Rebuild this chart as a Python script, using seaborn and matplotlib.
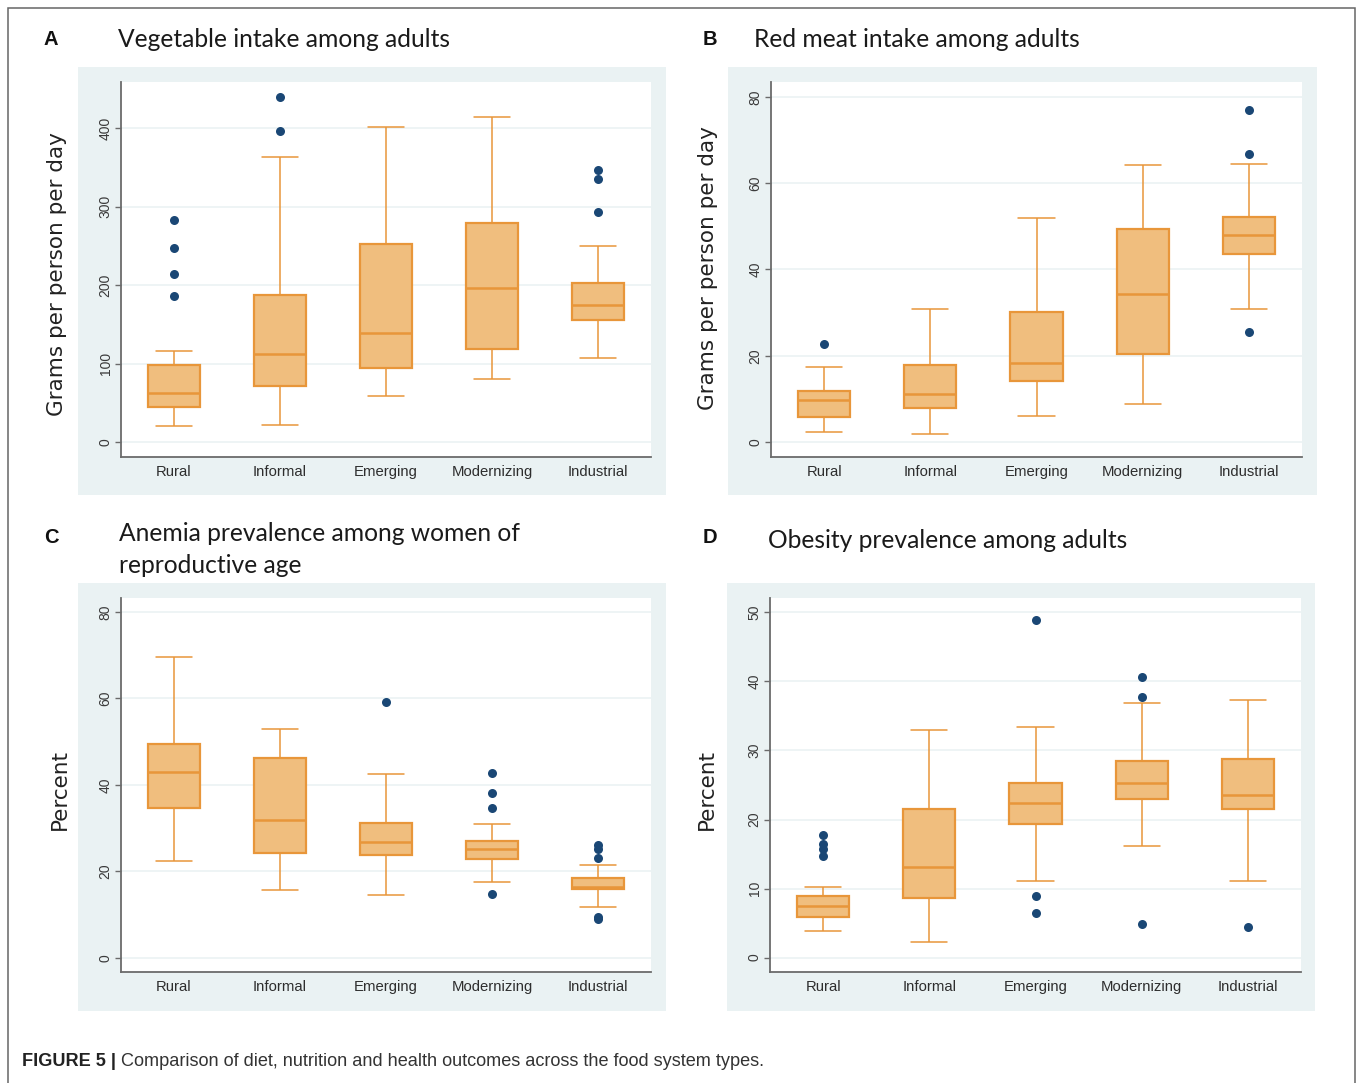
import numpy as np
import pandas as pd
import matplotlib
matplotlib.use("Agg")
import matplotlib.pyplot as plt
from matplotlib.patches import Rectangle
import seaborn as sns

categories = ["Rural", "Informal", "Emerging", "Modernizing", "Industrial"]

# A: vegetable intake, grams per person per day
veg_low = [20, 22, 59, 80, 107]
veg_q1 = [45, 71, 95, 119, 156]
veg_med = [63, 112, 139, 197, 175]
veg_q3 = [98, 187, 253, 279, 203]
veg_high = [116, 363, 402, 415, 250]
veg_out = [[283, 247, 214, 186], [440, 396], [], [], [347, 335, 293]]

# B: red meat intake, grams per person per day
meat_low = [2.2, 1.8, 6.0, 8.9, 30.8]
meat_q1 = [5.7, 7.8, 14.1, 20.3, 43.5]
meat_med = [9.7, 11.0, 18.2, 34.4, 48.0]
meat_q3 = [11.8, 17.9, 30.1, 49.4, 52.2]
meat_high = [17.4, 30.8, 51.9, 64.2, 64.4]
meat_out = [[22.7], [], [], [], [77.1, 66.9, 25.4]]

# C: anemia prevalence, percent
anemia_low = [22.3, 15.7, 14.6, 17.5, 11.7]
anemia_q1 = [34.6, 24.3, 23.7, 22.9, 15.8]
anemia_med = [43.0, 31.8, 26.8, 25.1, 16.3]
anemia_q3 = [49.4, 46.1, 31.1, 27.1, 18.4]
anemia_high = [69.6, 52.9, 42.5, 30.9, 21.5]
anemia_out = [[], [], [59.1], [42.8, 38.2, 34.7, 14.8], [26.0, 25.2, 23.1, 9.4, 9.0]]

# D: obesity prevalence, percent
obes_low = [3.8, 2.2, 11.1, 16.1, 11.1]
obes_q1 = [5.8, 8.6, 19.4, 23.0, 21.5]
obes_med = [7.5, 13.1, 22.4, 25.3, 23.5]
obes_q3 = [8.9, 21.5, 25.3, 28.5, 28.7]
obes_high = [10.25, 33.0, 33.4, 36.9, 37.3]
obes_out = [[17.7, 16.5, 15.7, 14.75], [], [48.9, 8.9, 6.4], [40.7, 37.8, 4.8], [4.4]]

FILL = "#F0BE7E"
EDGE = "#E8963A"
DOT = "#1A4775"
PANEL_BG = "#EAF2F3"

sns.set_theme(style="white")
plt.rcParams["font.family"] = ["Liberation Sans", "DejaVu Sans"]


def five_number_frame(low, q1, med, q3, high):
    # five values per group -> quartiles of these are exactly q1/med/q3
    rows = []
    for i, cat in enumerate(categories):
        for v in (low[i], q1[i], med[i], q3[i], high[i]):
            rows.append((cat, v))
    return pd.DataFrame(rows, columns=["system", "value"])


def outlier_frame(out):
    rows = [(cat, v) for cat, vals in zip(categories, out) for v in vals]
    return pd.DataFrame(rows, columns=["system", "value"])


def draw_panel(ax, box_df, out_df, ylim, yticks, ylabel, label_xy):
    ax.set_facecolor("white")
    sns.boxplot(data=box_df, x="system", y="value", order=categories,
                whis=(0, 100), width=0.49, color=FILL, linecolor=EDGE,
                saturation=1, linewidth=1.6, showfliers=False, capwidths=0.34,
                whiskerprops={"linewidth": 1.1}, capprops={"linewidth": 1.1},
                medianprops={"linewidth": 1.8}, ax=ax)
    if len(out_df):
        sns.stripplot(data=out_df, x="system", y="value", order=categories,
                      jitter=False, color=DOT, size=6.5, linewidth=0, ax=ax)
    ax.set_xlim(-0.5, 4.5)
    ax.set_ylim(*ylim)
    ax.set_yticks(yticks)
    ax.yaxis.grid(True, color="#EDF3F4", linewidth=1.3)
    ax.set_axisbelow(True)
    for s in ["top", "right"]:
        ax.spines[s].set_visible(False)
    for s in ["left", "bottom"]:
        ax.spines[s].set_color("#6b6b6b")
        ax.spines[s].set_linewidth(1.3)
    ax.tick_params(axis="y", left=True, length=4, width=1, color="#6b6b6b",
                   labelsize=10, labelcolor="#3a3a3a", pad=2, labelrotation=90)
    for lab in ax.get_yticklabels():
        lab.set_va("center")
    ax.tick_params(axis="x", bottom=False, length=0, labelsize=10.7,
                   labelcolor="#2e2e2e", pad=6)
    ax.set_xlabel("")
    ax.set_ylabel(ylabel, fontsize=15.5, family="DejaVu Sans", color="#222222", va="center")
    ax.yaxis.set_label_coords(*label_xy)


W, H = 1358, 1083
fig = plt.figure(figsize=(W / 100, H / 100), dpi=100)


def fx(px):
    return px / W


def fy(py):
    return 1 - py / H


# outer frame and grey-blue panel backgrounds (behind the axes)
fig.patches.append(Rectangle((fx(8), -0.02), fx(1347), fy(8) + 0.02, transform=fig.transFigure,
                             fill=False, edgecolor="#666666", linewidth=1.1, zorder=-2))
for x0, x1, y0, y1 in [(78, 666, 67, 495), (728, 1317, 67, 495),
                       (78, 666, 583, 1011), (727, 1315, 583, 1011)]:
    fig.patches.append(Rectangle((fx(x0), fy(y1)), fx(x1 - x0), (y1 - y0) / H,
                                 transform=fig.transFigure, facecolor=PANEL_BG,
                                 edgecolor="none", zorder=-1))

axA = fig.add_axes([fx(121), fy(457), fx(530), 375 / H])
axB = fig.add_axes([fx(771), fy(457), fx(531), 375 / H])
axC = fig.add_axes([fx(121), fy(972), fx(530), 374 / H])
axD = fig.add_axes([fx(770), fy(972), fx(531), 374 / H])

draw_panel(axA, five_number_frame(veg_low, veg_q1, veg_med, veg_q3, veg_high),
           outlier_frame(veg_out), (-19, 459), [0, 100, 200, 300, 400],
           "Grams per person per day", (-0.121, 0.488))
draw_panel(axB, five_number_frame(meat_low, meat_q1, meat_med, meat_q3, meat_high),
           outlier_frame(meat_out), (-3.5, 83.5), [0, 20, 40, 60, 80],
           "Grams per person per day", (-0.119, 0.504))
draw_panel(axC, five_number_frame(anemia_low, anemia_q1, anemia_med, anemia_q3, anemia_high),
           outlier_frame(anemia_out), (-3.3, 83.2), [0, 20, 40, 60, 80],
           "Percent", (-0.115, 0.487))
draw_panel(axD, five_number_frame(obes_low, obes_q1, obes_med, obes_q3, obes_high),
           outlier_frame(obes_out), (-2.1, 52.1), [0, 10, 20, 30, 40, 50],
           "Percent", (-0.119, 0.487))

title_kw = dict(fontsize=17.7, family=["Lato", "DejaVu Sans"], color="#1a1a1a", va="baseline")
letter_kw = dict(fontsize=14.5, fontweight="bold", color="#111111", va="baseline", ha="center")

fig.text(fx(51), fy(45), "A", **letter_kw)
fig.text(fx(118), fy(47), "Vegetable intake among adults", **title_kw)
fig.text(fx(710), fy(45), "B", **letter_kw)
fig.text(fx(754), fy(47), "Red meat intake among adults", **title_kw)
fig.text(fx(51), fy(543), "C", **letter_kw)
fig.text(fx(119), fy(541), "Anemia prevalence among women of", **title_kw)
fig.text(fx(119), fy(573), "reproductive age", **title_kw)
fig.text(fx(710), fy(543), "D", **letter_kw)
fig.text(fx(768), fy(548), "Obesity prevalence among adults", **title_kw)

# caption: bold label followed by regular text
cap_bold = fig.text(fx(22), fy(1062), "FIGURE 5 |", fontsize=13.1, fontweight="bold",
                    color="#222222", va="center")
renderer = fig.canvas.get_renderer()
bold_end = cap_bold.get_window_extent(renderer).x1
fig.text((bold_end + 5) / W, fy(1062),
         "Comparison of diet, nutrition and health outcomes across the food system types.",
         fontsize=13.1, color="#333333", va="center")

fig.savefig("out.png", dpi=100)
